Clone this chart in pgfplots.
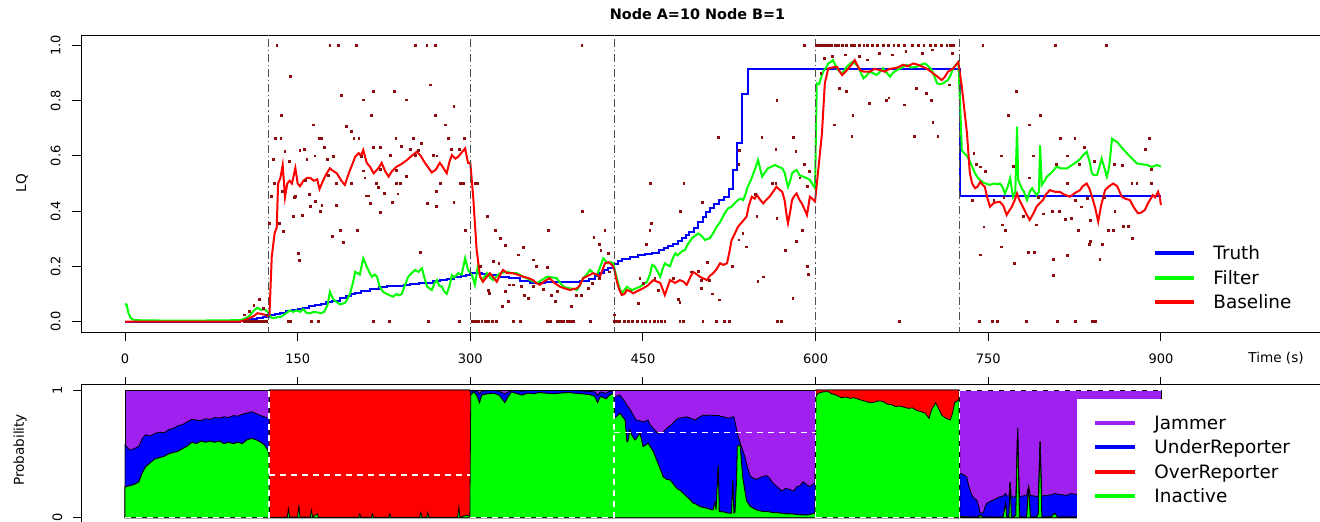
\documentclass[border=0pt]{standalone}
\usepackage{fontspec}
\setmainfont{DejaVu Sans}
\usepackage{pgfplots}
\usepackage{pgfplotstable}
\pgfplotsset{compat=1.18}
\definecolor{jpurple}{RGB}{160,32,240}
\definecolor{dotred}{RGB}{140,15,15}
\definecolor{vgray}{RGB}{80,80,80}

\pgfplotstableread{
t g r b
0 0.24 0.24 0.57
4 0.25 0.25 0.53
8 0.26 0.26 0.54
12 0.28 0.28 0.56
15 0.35 0.35 0.62
18 0.40 0.40 0.65
22 0.43 0.43 0.64
26 0.46 0.46 0.66
30 0.47 0.47 0.67
34 0.48 0.48 0.665
38 0.50 0.50 0.69
42 0.51 0.51 0.70
46 0.52 0.52 0.72
50 0.54 0.54 0.73
54 0.56 0.56 0.75
58 0.59 0.59 0.77
62 0.58 0.58 0.765
66 0.60 0.60 0.76
70 0.59 0.59 0.775
74 0.60 0.60 0.77
78 0.59 0.59 0.785
82 0.60 0.60 0.78
86 0.58 0.58 0.79
90 0.59 0.59 0.785
94 0.58 0.58 0.80
98 0.59 0.59 0.795
102 0.58 0.58 0.81
106 0.61 0.61 0.82
110 0.62 0.62 0.83
114 0.61 0.61 0.815
118 0.59 0.59 0.80
121 0.57 0.57 0.79
124 0.53 0.53 0.78
125 0.50 0.50 0.78
125.6 0.003 1 1
135 0.003 1 1
141 0.005 1 1
142 0.07 1 1
143 0.005 1 1
150 0.005 1 1
151 0.10 1 1
152 0.005 1 1
161 0.005 1 1
162 0.06 1 1
163 0.005 1 1
167 0.03 1 1
168 0.004 1 1
203 0.004 1 1
204 0.03 1 1
205 0.004 1 1
214 0.004 1 1
215 0.03 1 1
216 0.004 1 1
229 0.004 1 1
230 0.03 1 1
231 0.004 1 1
256 0.004 1 1
257 0.04 1 1
258 0.004 1 1
262 0.004 1 1
263 0.04 1 1
264 0.004 1 1
289 0.004 1 1
290 0.08 1 1
291 0.004 1 1
297 0.02 1 1
299.6 0.01 1 1
300.4 0.96 0.96 0.995
303 0.987 0.987 0.998
306 0.95 0.95 0.99
308 0.90 0.90 0.97
310 0.96 0.96 0.99
315 0.97 0.97 0.995
320 0.975 0.975 0.997
325 0.96 0.96 0.99
330 0.90 0.90 0.97
333 0.95 0.95 0.985
336 0.985 0.985 0.997
341 0.97 0.97 0.995
345 0.96 0.96 0.99
350 0.975 0.975 0.996
355 0.97 0.97 0.995
360 0.98 0.98 0.997
366 0.975 0.975 0.996
372 0.97 0.97 0.995
378 0.975 0.975 0.996
385 0.98 0.98 0.997
390 0.975 0.975 0.995
396 0.97 0.97 0.993
403 0.965 0.965 0.99
408 0.95 0.95 0.985
410.6 0.90 0.90 0.96
413 0.95 0.95 0.985
418 0.93 0.93 0.975
421 0.96 0.96 0.99
424.6 0.975 0.975 0.99
425.3 0.778 0.778 0.948
430 0.817 0.817 0.96
434.4 0.765 0.765 0.908
436 0.595 0.595 0.88
437 0.60 0.60 0.87
438.7 0.687 0.687 0.85
440 0.65 0.65 0.83
443 0.608 0.608 0.78
444.4 0.62 0.62 0.765
447.4 0.66 0.66 0.76
449 0.60 0.60 0.752
450 0.556 0.556 0.75
454.6 0.582 0.582 0.765
456 0.56 0.56 0.73
459 0.517 0.517 0.70
463 0.426 0.426 0.66
465 0.38 0.38 0.665
467.5 0.32 0.32 0.67
470.6 0.30 0.30 0.70
473.5 0.295 0.295 0.72
475 0.28 0.28 0.73
478 0.243 0.243 0.76
480.7 0.22 0.22 0.778
482 0.217 0.217 0.78
485 0.19 0.19 0.785
488 0.165 0.165 0.79
491 0.14 0.14 0.78
493.6 0.113 0.113 0.77
495.2 0.11 0.11 0.765
499.5 0.087 0.087 0.79
502.5 0.08 0.08 0.804
505.4 0.074 0.074 0.80
510 0.062 0.062 0.805
511 0.061 0.061 0.80
512.6 0.12 0.12 0.80
513.5 0.06 0.06 0.80
515.4 0.41 0.41 0.80
516.2 0.05 0.05 0.80
517 0.048 0.048 0.795
520 0.045 0.045 0.79
524 0.035 0.035 0.78
527 0.035 0.035 0.785
528 0.29 0.29 0.79
529 0.035 0.035 0.79
530 0.04 0.04 0.75
531.4 0.30 0.30 0.69
532 0.56 0.56 0.66
534.3 0.57 0.57 0.59
536.6 0.32 0.32 0.53
538.7 0.20 0.20 0.474
540 0.13 0.13 0.42
543 0.09 0.09 0.33
545.6 0.074 0.074 0.31
548.8 0.06 0.06 0.30
553 0.05 0.05 0.32
557.5 0.048 0.048 0.33
560 0.045 0.045 0.31
563 0.04 0.04 0.27
567 0.038 0.038 0.24
570.5 0.035 0.035 0.21
574 0.03 0.03 0.23
577.8 0.03 0.03 0.22
581 0.028 0.028 0.21
583.6 0.025 0.025 0.243
586.4 0.022 0.022 0.25
589 0.022 0.022 0.282
592 0.02 0.02 0.26
595 0.025 0.025 0.243
597 0.03 0.03 0.26
599.5 0.035 0.035 0.27
600.3 0.95 1 1
602 0.974 1 1
606 0.985 1 1
611 0.987 1 1
614 0.97 1 1
618 0.96 1 1
622 0.94 1 1
626 0.945 1 1
630 0.935 1 1
633 0.94 1 1
636.6 0.93 1 1
640 0.92 1 1
644 0.91 1 1
647.6 0.90 1 1
651 0.905 1 1
655 0.915 1 1
658.6 0.91 1 1
662 0.89 1 1
666 0.885 1 1
669.6 0.87 1 1
673 0.875 1 1
677 0.865 1 1
680.6 0.856 1 1
684 0.86 1 1
688 0.84 1 1
691.6 0.83 1 1
695 0.82 1 1
698.5 0.778 1 1
701 0.85 1 1
704.3 0.90 1 1
707 0.85 1 1
709.8 0.80 1 1
713 0.78 1 1
717 0.765 1 1
719 0.82 1 1
720.8 0.90 1 1
723.7 0.92 1 1
724.6 0.93 1 1
725.3 0.01 0.01 0.348
728 0.008 0.008 0.34
731.3 0.006 0.006 0.32
733 0.005 0.005 0.25
735.6 0.005 0.005 0.178
738 0.005 0.005 0.15
740 0.005 0.005 0.14
742 0.01 0.01 0.08
742.8 0.02 0.02 0.035
745.7 0.005 0.005 0.04
747 0.005 0.005 0.08
748.6 0.005 0.005 0.113
751 0.005 0.005 0.125
754.4 0.005 0.005 0.139
757 0.005 0.005 0.15
760.2 0.004 0.004 0.165
763 0.01 0.01 0.17
765 0.11 0.11 0.19
766 0.01 0.01 0.17
768 0.005 0.005 0.17
769 0.27 0.27 0.28
770 0.005 0.005 0.165
772 0.005 0.005 0.16
774 0.02 0.02 0.17
775.5 0.70 0.70 0.70
777 0.005 0.005 0.165
780 0.005 0.005 0.17
783.4 0.005 0.005 0.178
785 0.25 0.25 0.25
786.5 0.005 0.005 0.175
790 0.005 0.005 0.17
792 0.005 0.005 0.165
793.5 0.03 0.03 0.17
795 0.595 0.595 0.595
796.5 0.005 0.005 0.17
800.7 0.005 0.005 0.175
805 0.01 0.01 0.18
808 0.035 0.035 0.19
810 0.005 0.005 0.185
814 0.005 0.005 0.18
818 0.005 0.005 0.175
822 0.005 0.005 0.19
827 0.005 0.005 0.18
835 0.005 0.005 0.19
845 0.005 0.005 0.185
855 0.005 0.005 0.19
865 0.005 0.005 0.2
875 0.005 0.005 0.185
885 0.005 0.005 0.19
900 0.005 0.005 0.19
}\probdata

\begin{document}
\begin{tikzpicture}
\path[use as bounding box] (0,0) rectangle (660pt,260.5pt);

\begin{axis}[
  at={(40.5pt,94.5pt)}, anchor=south west, scale only axis,
  width=624.5pt, height=148.5pt,
  xmin=-38.23, xmax=1046.9, ymin=-0.038, ymax=1.038,
  xtick={0,150,300,450,600,750,900}, xticklabels={0,150,300,450,600,750,900},
  ytick={0,0.2,0.4,0.6,0.8,1}, yticklabels={0.0,0.2,0.4,0.6,0.8,1.0},
  xtick pos=left, ytick pos=left, tick align=outside, major tick length=4.6pt,
  tick style={black, line width=0.5pt},
  axis line style={black, line width=0.5pt},
  ticklabel style={font=\fontsize{6.5}{7}\selectfont},
  xticklabel style={anchor=north, inner sep=0pt, outer sep=6.2pt},
  yticklabel style={rotate=90, anchor=south, inner sep=0pt, outer sep=5.6pt},
  legend cell align=left,
  legend image code/.code={\draw[#1, line width=2pt] (0pt,0pt) -- (19.5pt,0pt);},
  legend style={draw=none, fill=none, inner sep=0pt, at={(0.8583,0.294)}, anchor=north west,
    font=\fontsize{9.2}{10}\selectfont, row sep=3.95pt, column sep=8.5pt,
    nodes={inner sep=0pt, text height=7.3pt, text depth=1.0pt}},
]
\addplot[blue, line width=1pt, const plot] coordinates {(0,0)(98,0)(100,0.002)(105,0.005)(110,0.008)(115,0.012)(120,0.016)(125,0.022)(130,0.027)(135,0.032)(140,0.038)(145,0.042)(150,0.045)(155,0.05)(160,0.055)(165,0.06)(170,0.065)(175,0.07)(180,0.075)(187,0.085)(192,0.093)(196,0.1)(200,0.105)(205,0.11)(213,0.118)(221,0.126)(228,0.128)(235,0.13)(242,0.133)(248,0.136)(255,0.138)(262,0.141)(268,0.145)(274,0.15)(280,0.155)(286,0.16)(292,0.166)(296,0.17)(300,0.175)(310,0.172)(317,0.168)(325,0.163)(334,0.157)(343,0.148)(352,0.141)(365,0.142)(380,0.144)(395,0.148)(403,0.155)(408,0.165)(412,0.175)(416,0.185)(420,0.195)(424,0.21)(428,0.22)(432,0.228)(439,0.235)(446,0.24)(452,0.243)(458,0.25)(464,0.259)(468,0.265)(472,0.272)(476,0.282)(480,0.292)(484,0.302)(487,0.312)(490,0.325)(494,0.34)(498,0.36)(502,0.38)(505,0.395)(508,0.41)(512,0.425)(516,0.44)(520,0.452)(525,0.48)(528,0.549)(532,0.648)(536,0.824)(541,0.914)(724.8,0.914)(725,0.456)(900,0.456)};
\addlegendentry{Truth}
\addplot[green, line width=1pt] coordinates {(0,0.065)(1.5,0.06)(3,0.03)(5,0.012)(8,0.005)(20,0.004)(50,0.003)(80,0.004)(100,0.005)(104,0.01)(108,0.02)(112,0.04)(115,0.05)(118,0.042)(121,0.045)(124,0.035)(126,0.02)(128,0.012)(132,0.015)(136,0.018)(140,0.03)(143,0.04)(146,0.035)(149,0.04)(152,0.035)(155,0.045)(158,0.03)(161,0.03)(164,0.035)(167,0.033)(170,0.03)(173,0.035)(176,0.06)(178,0.108)(181,0.08)(184,0.07)(187,0.062)(191,0.067)(193,0.08)(195.5,0.10)(198,0.14)(200,0.18)(202,0.175)(204,0.17)(207,0.229)(210,0.2)(212,0.18)(214.5,0.162)(217,0.17)(219,0.162)(221,0.13)(223,0.114)(225,0.105)(227.5,0.10)(230,0.095)(233,0.09)(236,0.1)(238,0.095)(240.5,0.10)(243,0.13)(246,0.162)(249,0.175)(252,0.187)(255,0.18)(258,0.193)(260,0.16)(262.5,0.126)(264.5,0.12)(266.5,0.114)(269,0.14)(271,0.15)(273,0.13)(275.5,0.126)(277,0.11)(279.5,0.10)(282,0.13)(284,0.168)(286,0.16)(289.5,0.175)(292.5,0.17)(295.5,0.229)(298,0.187)(301.5,0.168)(304,0.133)(306.5,0.2)(308,0.17)(310,0.15)(312,0.16)(314.5,0.175)(317,0.16)(320,0.15)(323,0.165)(326,0.175)(332,0.18)(336,0.175)(340.5,0.175)(345,0.165)(349,0.157)(353,0.148)(358,0.14)(362,0.15)(366.5,0.162)(371,0.16)(375,0.157)(378,0.14)(381,0.126)(384,0.122)(386.6,0.12)(390,0.118)(392.5,0.114)(395,0.13)(398,0.157)(401,0.17)(404,0.187)(407,0.175)(410,0.168)(413,0.2)(415.5,0.229)(417.5,0.22)(419.5,0.211)(422,0.215)(424,0.211)(427,0.162)(429,0.13)(431.5,0.102)(434,0.115)(436,0.126)(438,0.12)(440.5,0.114)(444,0.12)(447.5,0.126)(450.5,0.135)(453.5,0.144)(456,0.17)(458,0.205)(460,0.2)(462,0.187)(465,0.162)(467,0.19)(469,0.211)(471,0.205)(473.5,0.2)(476,0.23)(478,0.247)(480,0.24)(482,0.247)(484,0.255)(486.5,0.259)(489,0.28)(492.5,0.301)(495,0.31)(498,0.319)(501,0.31)(504,0.295)(506,0.3)(508,0.301)(511,0.32)(514,0.343)(517,0.36)(521,0.392)(524,0.41)(527,0.416)(530,0.43)(532.5,0.44)(535,0.445)(537,0.44)(539,0.46)(541,0.488)(543.5,0.51)(546,0.537)(548,0.56)(550,0.585)(552,0.55)(553.5,0.525)(556,0.54)(558.5,0.555)(561,0.56)(564.7,0.567)(568,0.56)(571,0.555)(573,0.54)(576,0.488)(578,0.51)(579.5,0.537)(581.5,0.545)(583.5,0.549)(586,0.53)(589,0.525)(592,0.52)(595,0.513)(597,0.5)(599.5,0.483)(601,0.863)(603,0.86)(604,0.875)(606.5,0.905)(609,0.92)(611,0.935)(613,0.94)(615,0.947)(617,0.93)(618.5,0.917)(621,0.905)(623,0.899)(625,0.91)(627,0.923)(629,0.93)(631.5,0.94)(634,0.935)(636,0.929)(639,0.905)(641.5,0.881)(644,0.89)(647,0.905)(650,0.9)(653,0.893)(656,0.905)(658.5,0.917)(661,0.905)(664.6,0.887)(667,0.9)(670.5,0.911)(675,0.92)(679,0.93)(683,0.92)(688,0.923)(691,0.93)(695,0.935)(698,0.925)(701,0.911)(703,0.89)(705.5,0.863)(708,0.86)(711,0.863)(713,0.87)(715,0.875)(717,0.89)(719.5,0.917)(722,0.93)(724,0.94)(725.5,0.79)(727,0.62)(729,0.61)(731.5,0.6)(734,0.58)(736,0.561)(738.5,0.537)(741,0.52)(743,0.513)(745,0.505)(747,0.501)(749,0.498)(751.5,0.495)(755,0.5)(758,0.497)(760,0.5)(762,0.49)(764.5,0.464)(767,0.49)(769,0.519)(771.5,0.452)(773.5,0.47)(775,0.706)(776,0.513)(779,0.483)(781,0.47)(783.6,0.44)(786,0.47)(788,0.483)(790,0.47)(792,0.458)(794,0.47)(795,0.638)(796.5,0.495)(799,0.51)(801,0.525)(805,0.54)(809.5,0.561)(813,0.555)(818.5,0.555)(822,0.565)(827,0.579)(830,0.59)(832.5,0.603)(835.5,0.615)(838,0.58)(840,0.537)(842,0.53)(844.5,0.531)(846.5,0.56)(848.5,0.59)(851,0.555)(853,0.525)(855,0.56)(857.5,0.662)(860,0.655)(862,0.65)(866,0.63)(870.5,0.609)(875,0.59)(879,0.573)(883,0.57)(888,0.567)(892,0.56)(896.5,0.567)(900,0.561)};
\addlegendentry{Filter}
\addplot[red, line width=1pt] coordinates {(0,0)(100,0)(104,0.005)(108,0.012)(112,0.02)(115,0.03)(118,0.028)(121,0.025)(124,0.02)(125.5,0.025)(127.5,0.235)(130,0.32)(131.8,0.34)(133,0.50)(135,0.52)(137,0.567)(139,0.45)(141,0.5)(143,0.51)(145,0.5)(148,0.556)(150,0.5)(152,0.49)(155,0.51)(158,0.52)(161,0.52)(164,0.51)(167,0.515)(169,0.48)(172,0.51)(175,0.535)(178,0.555)(181,0.545)(184,0.537)(188,0.51)(191,0.495)(193,0.52)(195.5,0.549)(198,0.575)(200,0.597)(203,0.61)(205,0.6)(207,0.621)(210,0.575)(213,0.56)(216,0.537)(219,0.55)(221,0.56)(223,0.575)(226,0.545)(229,0.525)(232,0.545)(236,0.561)(240,0.57)(245,0.585)(249,0.6)(253.5,0.615)(257,0.6)(260.5,0.575)(264,0.555)(266.5,0.54)(270,0.55)(273.5,0.575)(276,0.56)(279.5,0.537)(282,0.58)(284,0.603)(287,0.59)(289.5,0.597)(292,0.61)(295.5,0.627)(298,0.575)(300,0.575)(302.5,0.452)(305.5,0.259)(308.5,0.162)(311,0.144)(314,0.16)(317,0.175)(320,0.16)(323,0.144)(326,0.17)(328.5,0.187)(332,0.175)(337,0.175)(341,0.17)(346,0.162)(350,0.158)(354.5,0.15)(357,0.14)(360.5,0.133)(364,0.145)(369,0.157)(373,0.14)(378,0.126)(382,0.12)(386.6,0.114)(390,0.118)(392.5,0.12)(395,0.13)(398,0.157)(402,0.165)(406.6,0.175)(410,0.17)(412.6,0.162)(417,0.211)(420,0.215)(423,0.205)(425,0.19)(427,0.15)(429,0.12)(431.5,0.096)(434,0.1)(436,0.114)(439,0.11)(441.5,0.102)(445,0.11)(450,0.12)(454,0.13)(459,0.15)(462,0.145)(465,0.14)(469,0.096)(473.5,0.15)(478,0.14)(482,0.15)(485,0.145)(488,0.133)(491,0.16)(493.5,0.18)(497,0.17)(499.5,0.162)(503,0.155)(505.5,0.15)(508,0.165)(511,0.175)(514,0.19)(517,0.211)(520,0.205)(523,0.211)(525,0.25)(527,0.295)(530,0.32)(532.5,0.343)(536,0.36)(540,0.38)(542,0.42)(544.5,0.452)(547,0.445)(549,0.458)(552,0.44)(554.5,0.428)(557,0.44)(560,0.452)(563,0.47)(566,0.488)(568,0.48)(571,0.47)(573,0.44)(575,0.38)(576,0.356)(578,0.4)(579.5,0.44)(581.5,0.455)(583.5,0.464)(586,0.44)(588,0.428)(590,0.41)(592.5,0.386)(595,0.452)(597,0.445)(599.5,0.435)(602,0.537)(605.5,0.682)(608,0.863)(611,0.917)(614,0.92)(618.5,0.923)(621,0.905)(623,0.893)(626,0.905)(628.5,0.917)(631,0.93)(634,0.947)(636,0.93)(638.5,0.911)(642,0.905)(647,0.905)(651,0.915)(656,0.911)(660,0.905)(664,0.915)(667,0.917)(671,0.92)(676,0.93)(680,0.925)(685,0.935)(689,0.93)(693,0.923)(697,0.915)(702,0.899)(705,0.89)(709.5,0.875)(712,0.885)(715,0.905)(719.5,0.917)(722,0.93)(724,0.94)(727,0.851)(731.5,0.682)(734,0.537)(736,0.5)(738.5,0.483)(741,0.49)(743,0.507)(745,0.495)(747,0.488)(749,0.45)(751.5,0.416)(755,0.43)(760,0.434)(763,0.42)(766,0.386)(768,0.4)(770.5,0.416)(773,0.44)(775,0.464)(777,0.44)(780,0.416)(783,0.39)(786,0.368)(789,0.39)(792,0.416)(795,0.43)(797.5,0.44)(800,0.46)(803.5,0.476)(808,0.47)(812,0.47)(816,0.46)(821,0.452)(825,0.465)(829.7,0.476)(832,0.49)(835.5,0.5)(838,0.48)(841,0.44)(843,0.41)(845.5,0.362)(848,0.42)(851.5,0.476)(855,0.49)(858.5,0.5)(862,0.49)(866,0.452)(869,0.445)(873,0.44)(877,0.41)(880,0.392)(883,0.395)(886,0.404)(889,0.43)(893,0.458)(895,0.45)(897.5,0.47)(899,0.45)(900,0.422)};
\addlegendentry{Baseline}
\addplot[forget plot, only marks, mark=square*, mark size=0.45pt, color=dotred, mark options={draw=none}] coordinates {
(104,0)(106,0)(108,0)(110,0)(112,0)(114,0)(117,0)(119,0)(121,0)(123,0)(104,0.024)(108,0.036)(112,0.057)(116.5,0.08)(120,0.048)(123,0.024)
(132,1)(144,0.887)(136,0.748)(131,0.664)(135.5,0.664)(139,0.615)(129,0.587)(127.4,0.452)(125.6,0.356)(129.6,0.5)(134,0.356)(137.6,0.326)(137,0.47)(142.6,0.58)(148,0.452)(146.5,0.382)(150.9,0.247)(151.7,0.222)(147,0.45)(141.8,0)(144,0)(152,0.621)(154,0.384)(156,0.625)(163.5,0.712)(158,0.587)(165,0.6)(161,0.418)(165.5,0.436)(162,0)(168,0)(169,0.664)(170.5,0.664)(169.7,0.40)(171,0.42)(173,0.63)(176,0.587)(176.5,0.53)(157,0.512)(160,0.46)
(178,1)(185.4,1)(200.8,1)(252,1)(262.2,1)(270,1)(396.9,1)
(188.2,0.818)(207,0.803)(215.8,0.833)(234,0.833)(244.7,0.803)(265.5,0.857)(285.7,0.778)(214.3,0.748)(192.5,0.708)(269.6,0.748)(278.3,0.712)(196.8,0.688)(198.9,0.664)(203.2,0.664)(235.4,0.664)(250.4,0.664)(257.6,0.644)(280.7,0.664)(295.2,0.664)(283.5,0.625)(290.7,0.623)(215.8,0.632)(221.6,0.632)(230.5,0.603)(239.8,0.635)(247.9,0.625)(255.2,0.62)(181,0.597)(205.6,0.597)(252.3,0.603)(268.1,0.603)(271,0.6)(207,0.546)(221.6,0.55)(236,0.548)(208.4,0.52)(244.7,0.527)(183.8,0.5)(196.8,0.5)(218.5,0.5)(235.9,0.5)(239.6,0.5)(273.9,0.5)(291.3,0.5)(294.2,0.5)(304.4,0.5)(220,0.485)(270.7,0.47)(209.5,0.455)(211.5,0.455)(225.6,0.465)(237,0.462)(183.8,0.422)(213,0.428)(232.6,0.432)(262.5,0.428)(285.7,0.432)(270.6,0.416)(221.7,0.394)(180,0.307)(187.2,0.331)(201.7,0.331)(189.5,0.286)(295.4,0.331)(256.3,0.25)(305.9,0.5)(314.6,0.382)(321.8,0.331)(397.2,0.40)(367.7,0.331)(326.1,0.301)(330.5,0.277)(342,0.241)(346.4,0.268)(355.1,0.223)(357.1,0.2)(366.7,0.196)(407.3,0.305)(412.3,0.28)(416.9,0.331)(413.4,0.259)(419.8,0.247)(320.4,0.217)(324.8,0.21)(308.6,0.2)(315.8,0.114)(316.6,0.102)(330.5,0.108)(334,0.133)(337.5,0.133)(344.7,0.127)(346.9,0.096)(350.7,0.085)(355.1,0.127)(363.8,0.115)(370.1,0.096)(375.4,0.108)(387.8,0.054)(392.2,0.096)(396.5,0.096)(402.3,0.12)(406.3,0.139)(412.1,0.157)(420.8,0.18)(425.2,0.024)(327.6,0.056)(333.4,0.072)(374,0.072)(446,0.066)(456.1,0.331)(456.6,0.5)(457.5,0.356)(453.1,0.28)(447.3,0.157)(450.2,0.139)(463.2,0.114)(460.3,0.157)
(215.8,0)(229.4,0)(263.6,0)(290.2,0)(302,0)(304.5,0)(307,0)(310,0)(313,0)(316,0)(319,0)(323,0)(337.5,0)(343.2,0)(366.7,0)(369.6,0)(375.4,0)(378.3,0)(381,0)(384,0)(387,0)(389.8,0)(404,0)(425,0)(428,0)(430,0)(434,0)(437,0)(441,0)(445,0)(449,0)(452,0)(456,0)(460,0)(463,0)
(589.9,1)(601,1)(603,1)(606,1)(608.5,1)(611,1)(614,1)(617,1)(620,1)(623,1)(627,1)(631,1)(634,1)(638,1)(642,1)(645,1)(649,1)(654,1)(659,1)(663,1)(668,1)(672,1)(677,1)(684,1)(689,1)(694,1)(700,1)(704,1)(709,1)(714,1)(717,1)(720,1)(745.3,1)
(607.4,0.954)(614.6,0.96)(626.2,0.966)(637.8,0.96)(645,0.948)(655.3,0.972)(666.9,0.966)(678.4,0.978)(692.9,0.972)(701.6,0.984)(718.9,0.972)(620.8,0.845)(626.6,0.833)(632.4,0.748)(646.9,0.79)(661.4,0.8)(663.7,0.81)(677.3,0.785)(687.4,0.845)(696.1,0.827)(700.4,0.8)(616.5,0.712)(685.9,0.67)(701.8,0.72)(706.2,0.67)(631.6,0.67)(604.5,0.9)(716.1,0.857)
(737.5,0.61)(739.8,0.57)(743.3,0.56)(747.7,0.545)(736,0.44)(746.2,0.343)(743.3,0.241)
(466,0)(469,0)(482,0)(485,0)(502,0)(514,0)(521,0)(525,0)(567,0)(570,0)(673,0)(742,0)
(515.3,0.666)(533.9,0.619)(533.3,0.57)(566.3,0.8)(553.4,0.666)(565.5,0.625)(580.9,0.666)(582.9,0.615)(565.5,0.5)(485.5,0.5)(501.6,0.432)(482.6,0.40)(562.7,0.5)(548,0.46)(590.2,0.57)(593,0.49)(594.5,0.545)(586.4,0.52)(566.3,0.374)(549,0.38)(573.5,0.259)(583,0.29)(588.5,0.33)(533.3,0.296)(536.8,0.32)(539.7,0.27)(528,0.2)(516.1,0.078)(492.3,0.18)(498.1,0.183)(476.3,0.157)(480.6,0.08)(482,0.068)(500.6,0.15)(507.8,0.15)(500.6,0.12)(505.9,0.215)(554.3,0.162)(549.9,0.145)(580.3,0.084)(593.2,0.2)(593.8,0.17)(510,0.1)
(808,1)(852.5,1)(774.7,0.833)(767.5,0.748)(795,0.748)(785.4,0.712)(812.9,0.664)(825.3,0.664)(890.3,0.664)(761.7,0.6)(789,0.6)(818.5,0.6)(833.5,0.63)(886.8,0.625)(829.2,0.57)(842.2,0.58)(859.6,0.57)(866.3,0.565)(809.5,0.57)(892,0.55)(771.7,0.563)(786,0.52)(819,0.5)(874.8,0.5)(879.1,0.5)(891.7,0.5)(763.6,0.45)(754.9,0.44)(793.3,0.45)(826,0.44)(836.2,0.445)(850.6,0.45)(831.1,0.415)(806,0.4)(812,0.4)(860,0.4)(780.5,0.38)(797.9,0.39)(816.7,0.37)(822.5,0.375)(838.4,0.366)(762.6,0.35)(765,0.331)(792,0.35)(828,0.331)(854.6,0.331)(858.9,0.331)(867.6,0.345)(871.9,0.345)(875,0.3)(761.7,0.27)(785,0.25)(790,0.25)(818.8,0.24)(839,0.29)(837.6,0.278)(849.2,0.278)(773,0.21)(806.5,0.225)(847,0.225)(806.8,0.166)
(753.4,0)(757.7,0)(783.3,0)(810,0)(826,0)(840.5,0)(843.4,0)
};
\addplot[forget plot, vgray, line width=0.5pt, dash pattern=on 4pt off 1.5pt on 0.6pt off 1.5pt] coordinates {(125,-0.05)(125,1.05)};
\addplot[forget plot, vgray, line width=0.5pt, dash pattern=on 4pt off 1.5pt on 0.6pt off 1.5pt] coordinates {(300,-0.05)(300,1.05)};
\addplot[forget plot, vgray, line width=0.5pt, dash pattern=on 4pt off 1.5pt on 0.6pt off 1.5pt] coordinates {(425,-0.05)(425,1.05)};
\addplot[forget plot, vgray, line width=0.5pt, dash pattern=on 4pt off 1.5pt on 0.6pt off 1.5pt] coordinates {(600,-0.05)(600,1.05)};
\addplot[forget plot, vgray, line width=0.5pt, dash pattern=on 4pt off 1.5pt on 0.6pt off 1.5pt] coordinates {(725,-0.05)(725,1.05)};
\end{axis}

\begin{axis}[
  at={(40.5pt,-0.9pt)}, anchor=south west, scale only axis,
  width=624.5pt, height=68.95pt,
  xmin=-38.23, xmax=1046.9, ymin=-0.04, ymax=1.04,
  xtick={0,150,300,450,600,750,900}, xticklabels={},
  ytick={0,1}, yticklabels={0,1},
  xtick pos=right, ytick pos=left, tick align=outside, major tick length=4pt,
  tick style={black, line width=0.5pt},
  axis line style={black, line width=0.5pt},
  ticklabel style={font=\fontsize{6.5}{7}\selectfont},
  yticklabel style={rotate=90, anchor=south, inner sep=0pt, outer sep=5.4pt},
  legend cell align=left,
  legend image code/.code={\draw[#1, line width=2pt] (0pt,0pt) -- (20pt,0pt);},
  legend style={draw=none, fill=white, inner xsep=8.15pt, inner ysep=7.85pt, at={(0.7972,0.9028)}, anchor=north west,
    font=\fontsize{9.2}{10}\selectfont, row sep=3.95pt, column sep=8.5pt,
    nodes={inner sep=0pt, text height=7.3pt, text depth=1.0pt}},
]
\addplot[forget plot, fill=jpurple, draw=black, line width=0.4pt] coordinates {(0,1)(900,1)} \closedcycle;
\addplot[forget plot, fill=blue, draw=black, line width=0.4pt] table[x=t,y=b] {\probdata} \closedcycle;
\addplot[forget plot, fill=red, draw=black, line width=0.4pt] table[x=t,y=r] {\probdata} \closedcycle;
\addplot[forget plot, fill=green, draw=black, line width=0.4pt] table[x=t,y=g] {\probdata} \closedcycle;
\addplot[forget plot, white, line width=0.7pt, dash pattern=on 3pt off 2.5pt] coordinates {(0,0)(125,0)};
\addplot[forget plot, white, line width=0.7pt, dash pattern=on 3pt off 2.5pt] coordinates {(125,0.333)(300,0.333)};
\addplot[forget plot, white, line width=0.7pt, dash pattern=on 3pt off 2.5pt] coordinates {(300,0)(425,0)};
\addplot[forget plot, white, line width=0.7pt, dash pattern=on 3pt off 2.5pt] coordinates {(425,0.667)(600,0.667)};
\addplot[forget plot, white, line width=0.7pt, dash pattern=on 3pt off 2.5pt] coordinates {(600,0)(725,0)};
\addplot[forget plot, white, line width=0.7pt, dash pattern=on 3pt off 2.5pt] coordinates {(725,1)(900,1)};
\addplot[forget plot, white, line width=0.7pt, dash pattern=on 3pt off 2.5pt] coordinates {(125,0)(125,1)};
\addplot[forget plot, white, line width=0.7pt, dash pattern=on 3pt off 2.5pt] coordinates {(425,0)(425,1)};
\addplot[forget plot, white, line width=0.7pt, dash pattern=on 3pt off 2.5pt] coordinates {(600,0)(600,1)};
\addplot[forget plot, white, line width=0.7pt, dash pattern=on 3pt off 2.5pt] coordinates {(725,0)(725,1)};
\addlegendimage{color=jpurple}
\addlegendentry{Jammer}
\addlegendimage{color=blue}
\addlegendentry{UnderReporter}
\addlegendimage{color=red}
\addlegendentry{OverReporter}
\addlegendimage{color=green}
\addlegendentry{Inactive}
\end{axis}

\node[font=\bfseries\fontsize{7.2}{8}\selectfont] at (348.75pt,253.5pt) {Node A=10 Node B=1};
\node[rotate=90, font=\fontsize{6.8}{8}\selectfont] at (11pt,169pt) {LQ};
\node[rotate=90, font=\fontsize{6.8}{8}\selectfont] at (10pt,35.5pt) {Probability};
\node[font=\fontsize{6.8}{8}\selectfont] at (638pt,81.25pt) {Time (s)};
\end{tikzpicture}
\end{document}
